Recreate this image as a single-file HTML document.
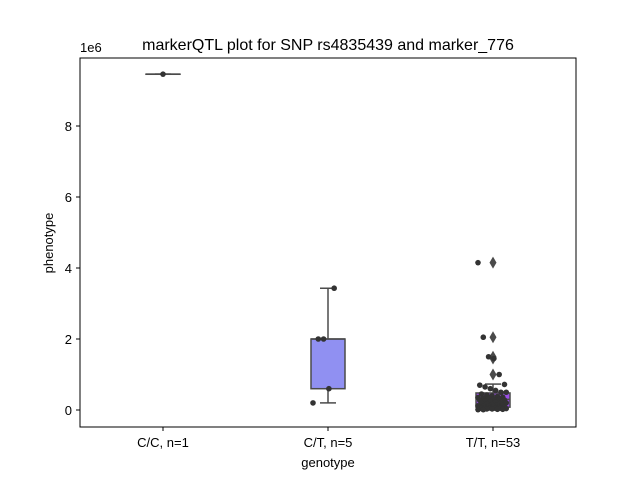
<!DOCTYPE html>
<html><head><meta charset="utf-8"><style>
body{margin:0;background:#fff}svg{display:block;font-family:"Liberation Sans",sans-serif}
</style></head><body>
<svg id="c" width="640" height="480">
<rect x="80" y="58" width="496" height="369" fill="#fff" stroke="#000" stroke-width="1"/>
<text x="328" y="50" font-size="16" text-anchor="middle">markerQTL plot for SNP rs4835439 and marker_776</text>
<text x="80" y="52" font-size="13">1e6</text>
<text x="53" y="243" font-size="13" text-anchor="middle" transform="rotate(-90 53 243)">phenotype</text>
<text x="328" y="467" font-size="13" text-anchor="middle">genotype</text>
<g id="g"></g>
</svg>
<script>
const categories=["C/C, n=1","C/T, n=5","T/T, n=53"];
const q1=[9.46,0.6,0.08];
const med=[9.46,2.0,0.3];
const q3=[9.46,2.0,0.48];
const whiskLo=[9.46,0.2,0.0];
const whiskHi=[9.46,3.43,0.73];
const outliersTT=[4.15,2.05,1.5,1.45,1.0];
const ptsCC=[9.46];
const ptsCT=[0.2,2.0,2.0,0.6,3.43];
const ptsTT=[4.15,2.05,1.5,1.45,1.0,0.72,0.7,0.65,0.6,0.55,0.5,0.5,0.45,0.42,0.4,0.38,0.36,0.35,0.33,0.32,0.3,0.3,0.28,0.27,0.25,0.24,0.22,0.2,0.2,0.18,0.17,0.15,0.14,0.13,0.12,0.11,0.1,0.1,0.09,0.08,0.07,0.06,0.06,0.05,0.05,0.04,0.04,0.03,0.03,0.02,0.02,0.01,0.01];
const yTicks=[0,2,4,6,8];
const fills=["#8f8ff0","#9090f2","#9b4fe6"];
const NS="http://www.w3.org/2000/svg";
const g=document.getElementById("g");
const y=v=>410-v*35.5;
const x=i=>163+i*165;
function el(t,a,parent){const e=document.createElementNS(NS,t);for(const k in a)e.setAttribute(k,a[k]);(parent||g).appendChild(e);return e;}
yTicks.forEach(t=>{
 const l=el("line",{x1:76,x2:80,y1:y(t),y2:y(t),stroke:"#000"});
 
 
 const tx=el("text",{x:72,y:y(t)+5,"font-size":13,"text-anchor":"end"});tx.textContent=t;
 
 
});
categories.forEach((c,i)=>{
 const l=el("line",{x1:x(i),x2:x(i),y1:427,y2:431,stroke:"#000"});
 
 
 const tx=el("text",{x:x(i),y:447,"font-size":13,"text-anchor":"middle"});tx.textContent=c;
 
 
 const bg=el("g",{});
 
 
 const s="#4a4a4a";
 el("line",{x1:x(i),x2:x(i),y1:y(whiskHi[i]),y2:y(q3[i]),stroke:s,"stroke-width":1.5},bg);
 el("line",{x1:x(i),x2:x(i),y1:y(q1[i]),y2:y(whiskLo[i]),stroke:s,"stroke-width":1.5},bg);
 el("line",{x1:x(i)-8,x2:x(i)+8,y1:y(whiskHi[i]),y2:y(whiskHi[i]),stroke:s,"stroke-width":1.5},bg);
 el("line",{x1:x(i)-8,x2:x(i)+8,y1:y(whiskLo[i]),y2:y(whiskLo[i]),stroke:s,"stroke-width":1.5},bg);
 el("rect",{x:x(i)-17,y:y(q3[i]),width:34,height:Math.max(0.1,y(q1[i])-y(q3[i])),fill:fills[i],stroke:s,"stroke-width":1.5},bg);
 el("line",{x1:x(i)-17,x2:x(i)+17,y1:y(med[i]),y2:y(med[i]),stroke:s,"stroke-width":1.5},bg);
});
outliersTT.forEach(v=>{
 const d=el("path",{d:`M${x(2)} ${y(v)-6}L${x(2)+3.5} ${y(v)}L${x(2)} ${y(v)+6}L${x(2)-3.5} ${y(v)}Z`,fill:"#4a4a4a"});
 
 
});
[ptsCC,ptsCT,ptsTT].forEach((arr,i)=>{
 arr.forEach((v,j)=>{
  const jit=arr.length>1?(((j*37)%17)/17-0.5)*30:0;
  const p=el("circle",{cx:x(i)+jit,cy:y(v),r:2.8,fill:"#333"});
  
  
 });
});
</script>
</body></html>
